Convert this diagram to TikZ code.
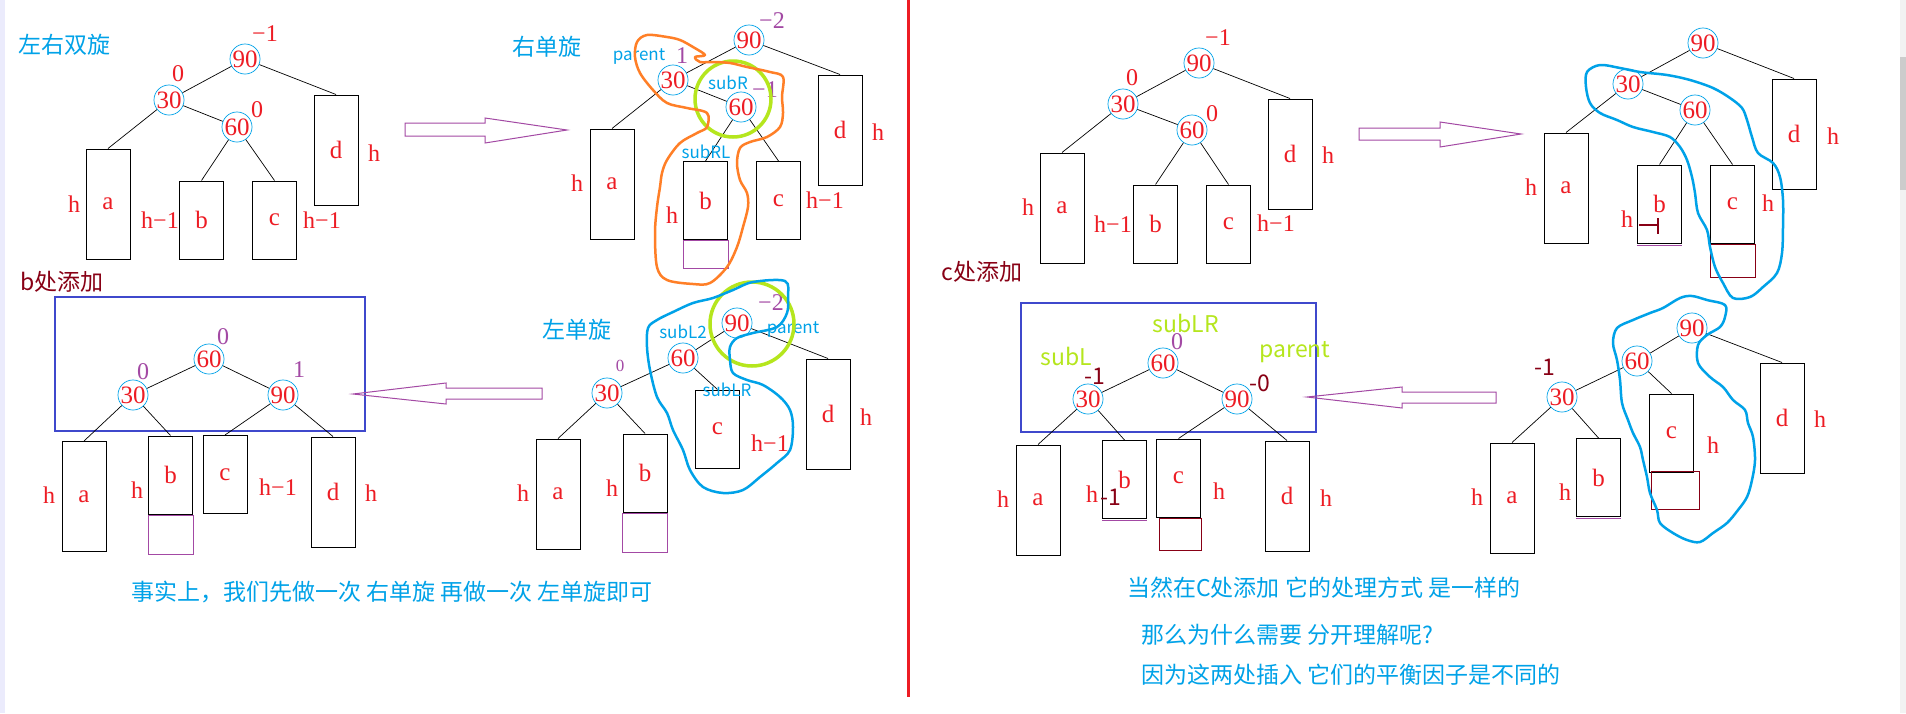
\documentclass[tikz,border=0pt]{standalone}
\usepackage{fontspec}
\setmainfont{Liberation Serif}
\newfontfamily\cjk{Noto Sans CJK SC}
\usetikzlibrary{positioning}
\definecolor{paintblue}{RGB}{0,162,232}
\definecolor{paintred}{RGB}{237,28,36}
\definecolor{paintpurple}{RGB}{163,73,164}
\definecolor{paintmaroon}{RGB}{136,0,21}
\definecolor{paintlime}{RGB}{181,230,29}
\definecolor{paintorange}{RGB}{255,127,39}
\definecolor{paintindigo}{RGB}{63,72,204}
\begin{document}
\begin{tikzpicture}[x=1pt, y=-1pt,
    key/.style={circle, draw=paintblue, line width=0.7pt, minimum size=27pt, inner sep=0pt, text=paintred, font=\fontsize{25}{25}\selectfont},
    tallbox/.style={draw, line width=1pt, minimum width=44pt, minimum height=110pt, inner sep=0pt, text=paintred, font=\fontsize{25}{25}\selectfont},
    shortbox/.style={tallbox, minimum height=78pt},
    addbox/.style={draw=paintpurple, line width=1pt, minimum width=45pt, inner sep=0pt},
    branch/.style={line width=0.7pt},
    ht/.style={text=paintred, inner sep=0pt, font=\fontsize{24}{24}\selectfont},
    pbf/.style={ht, text=paintpurple},
    mbf/.style={text=paintmaroon, inner sep=0pt, font=\cjk\fontsize{23}{23}\selectfont},
    tag/.style={text=paintblue, inner sep=0pt, font=\cjk\fontsize{17}{17}\selectfont},
    gtag/.style={text=paintlime, inner sep=0pt, font=\cjk\fontsize{23}{23}\selectfont},
    title/.style={text=paintblue, inner sep=0pt, font=\cjk\fontsize{23}{23}\selectfont},
    mtitle/.style={title, text=paintmaroon},
    hollowarrow/.style={draw=paintpurple, line width=1pt},
    blob/.style={line width=2.5pt, line join=round},
    limering/.style={draw=paintlime, line width=3.5pt}]
    \useasboundingbox (0,0) rectangle (1906,713);
    \fill[white] (0,0) rectangle (1906,713);
    % Ränder
    \fill[black!12!blue!8] (0,0) rectangle (5,713);
    \fill[black!5] (1900,0) rectangle (1906,713);
    \fill[black!20] (1900,57) rectangle (1906,190);
    \draw[paintred, line width=3pt] (908,0) -- (908,697);

    % ---- Bild 1: Ausgangsbaum (links oben)
    \node[title] (t1) at (64,45) {左右双旋};
    \node[key] (A90) at (245,59) {90};
    \node[key] (A30) at (169,100) {30};
    \node[key] (A60) at (237,127) {60};
    \node[tallbox] (Aa) at (108,204) {a};
    \node[shortbox] (Ab) at (201.5,220) {b};
    \node[shortbox] (Ac) at (274.5,220) {c};
    \node[tallbox] (Ad) at (336,150) {d};
    \draw[branch] (A90) -- (A30) (A90) -- (Ad.north) (A30) -- (Aa.north) (A30) -- (A60)
        (A60) -- (Ab.north) (A60) -- (Ac.north);
    \node[ht] (A90f) at (265,34) {−1};
    \node[ht] (A30f) at (178,74) {0};
    \node[ht] (A60f) at (257,110) {0};
    \node[ht] (Aah) at (74,204) {h};
    \node[ht] (Abh) at (160,220) {h−1};
    \node[ht] (Ach) at (322,220) {h−1};
    \node[ht] (Adh) at (374,153) {h};

    % ---- Bild 2: Rechtsrotation um 30
    \node[title] (t2) at (547,47) {右单旋};
    \node[key] (B90) at (749,40) {90};
    \node[key] (B30) at (673,80) {30};
    \node[key] (B60) at (741,107) {60};
    \node[tallbox] (Ba) at (612,184) {a};
    \node[shortbox] (Bb) at (705.5,200.5) {b};
    \node[shortbox] (Bc) at (778.5,200.5) {c};
    \node[tallbox] (Bd) at (840,130) {d};
    \node[addbox, minimum height=28pt, below=0pt of Bb] (Bbx) {};
    \draw[branch] (B90) -- (B30) (B90) -- (Bd.north) (B30) -- (Ba.north) (B30) -- (B60)
        (B60) -- (Bb.north) (B60) -- (Bc.north);
    \node[pbf] (B90f) at (772,21) {−2};
    \node[pbf] (B30f) at (682,56) {1};
    \node[pbf] (B60f) at (765,90) {−1};
    \node[tag] (Bpar) at (639,57) {parent};
    \node[tag] (Bsub) at (728,83) {subR};
    \node[tag] (Bsubl) at (706,152) {subRL};
    \node[ht] (Bah) at (577,183) {h};
    \node[ht] (Bbh) at (672,215) {h};
    \node[ht] (Bch) at (825,200) {h−1};
    \node[ht] (Bdh) at (878,132) {h};
    \draw[limering] (733,99) circle[radius=38];
    \draw[blob, paintorange] plot[smooth cycle, tension=0.55] coordinates {
        (705,55) (693,47) (680,40) (667,37) (647,35) (637,42) (635,57) (640,73)
        (653,90) (667,103) (687,108) (707,113) (707,127) (697,133) (680,143)
        (667,160) (662,173) (660,187) (657,207) (655,233) (657,267) (667,280)
        (693,284) (710,283) (727,267) (737,247) (743,227) (748,207) (747,193)
        (740,180) (737,163) (740,148) (750,142) (767,137) (780,127) (783,113)
        (782,97) (783,77) (770,72) (747,67) (730,63) (713,62) (700,62) (695,57)};

    % ---- Bild 3: Linksrotation um 90
    \node[title] (t3) at (577,330) {左单旋};
    \node[key] (C90) at (737,323) {90};
    \node[key] (C60) at (683,358) {60};
    \node[key] (C30) at (607,393) {30};
    \node[tallbox] (Ca) at (558,494) {a};
    \node[shortbox] (Cb) at (645,473) {b};
    \node[shortbox] (Cc) at (717.5,429) {c};
    \node[tallbox] (Cd) at (828,414) {d};
    \node[addbox, minimum height=39pt, below=0pt of Cb] (Cbx) {};
    \draw[branch] (C90) -- (C60) (C90) -- (Cd.north) (C60) -- (C30) (C60) -- (Cc.north)
        (C30) -- (Ca.north) (C30) -- (Cb.north);
    \node[pbf] (C90f) at (771,303) {−2};
    \node[pbf, font=\fontsize{17}{17}\selectfont] (C30f) at (620,366) {0};
    \node[tag] (Cpar) at (793,330) {parent};
    \node[tag] (Csub) at (683,332) {subL2};
    \node[tag] (Csubl) at (727,390) {subLR};
    \node[ht] (Cah) at (523,493) {h};
    \node[ht] (Cbh) at (612,488) {h};
    \node[ht] (Cch) at (770,443) {h−1};
    \node[ht] (Cdh) at (866,417) {h};
    \draw[limering] (752,324) circle[radius=42];
    \draw[blob, paintblue] plot[smooth cycle, tension=0.55] coordinates {
        (785,281) (753,282) (733,290) (713,298) (693,303) (673,312) (657,320)
        (648,328) (647,347) (650,370) (657,397) (667,413) (673,430) (683,450)
        (690,470) (703,487) (723,493) (743,490) (760,477) (777,463) (790,450)
        (793,427) (790,410) (780,397) (763,385) (747,380) (733,373) (730,360)
        (730,347) (737,338) (753,333) (777,327) (787,313) (788,297)};

    % ---- Bild 4: Ergebnis bei b
    \node[mtitle] (t4) at (62,282) {b处添加};
    \draw[paintindigo, line width=1.2pt] (55,297) rectangle (365,431);
    \node[key] (D60) at (209,359) {60};
    \node[key] (D30) at (133,395) {30};
    \node[key] (D90) at (283,395) {90};
    \node[tallbox] (Da) at (84,496.5) {a};
    \node[shortbox] (Db) at (170.5,475) {b};
    \node[shortbox] (Dc) at (225,474.5) {c};
    \node[tallbox] (Dd) at (333,492) {d};
    \node[addbox, minimum height=39pt, below=0pt of Db] (Dbx) {};
    \draw[branch] (D60) -- (D30) (D60) -- (D90) (D30) -- (Da.north) (D30) -- (Db.north)
        (D90) -- (Dc.north) (D90) -- (Dd.north);
    \node[pbf] (D60f) at (223,337) {0};
    \node[pbf] (D30f) at (143,372) {0};
    \node[pbf] (D90f) at (299,370) {1};
    \node[ht] (Dah) at (49,495) {h};
    \node[ht] (Dbh) at (137,490) {h};
    \node[ht] (Dch) at (278,487) {h−1};
    \node[ht] (Ddh) at (371,493) {h};

    % Pfeile links
    \draw[hollowarrow] (405,123) -- (485,123) -- (485,118) -- (567,130) -- (485,143)
        -- (485,136) -- (405,136) -- cycle;
    \draw[hollowarrow] (542,388) -- (446,388) -- (446,383) -- (353,394) -- (446,404)
        -- (446,399) -- (542,399) -- cycle;
    \node[title] (note1) at (392,592) {事实上，我们先做一次 右单旋 再做一次 左单旋即可};

    % ---- Bild 5: Ausgangsbaum (rechts oben)
    \node[key] (E90) at (1199,63) {90};
    \node[key] (E30) at (1123,104) {30};
    \node[key] (E60) at (1192,130) {60};
    \node[tallbox] (Ea) at (1062,208) {a};
    \node[shortbox] (Eb) at (1155.5,224) {b};
    \node[shortbox] (Ec) at (1228.5,224) {c};
    \node[tallbox] (Ed) at (1290,154) {d};
    \draw[branch] (E90) -- (E30) (E90) -- (Ed.north) (E30) -- (Ea.north) (E30) -- (E60)
        (E60) -- (Eb.north) (E60) -- (Ec.north);
    \node[ht] (E90f) at (1218,38) {−1};
    \node[ht] (E30f) at (1132,78) {0};
    \node[ht] (E60f) at (1212,114) {0};
    \node[ht] (Eah) at (1028,207) {h};
    \node[ht] (Ebh) at (1113,224) {h−1};
    \node[ht] (Ech) at (1276,223) {h−1};
    \node[ht] (Edh) at (1328,155) {h};
    \node[mtitle] (t5) at (982,272) {c处添加};

    % ---- Bild 6: Einfügen bei c
    \node[key] (F90) at (1703,43) {90};
    \node[key] (F30) at (1628,84) {30};
    \node[key] (F60) at (1695,110) {60};
    \node[tallbox] (Fa) at (1566,188) {a};
    \node[shortbox] (Fb) at (1659.5,204) {b};
    \node[shortbox] (Fc) at (1732.5,204) {c};
    \node[tallbox] (Fd) at (1794,134) {d};
    \node[addbox, draw=paintmaroon, minimum height=33pt, below=0pt of Fc] (Fcx) {};
    \draw[branch] (F90) -- (F30) (F90) -- (Fd.north) (F30) -- (Fa.north) (F30) -- (F60)
        (F60) -- (Fb.north) (F60) -- (Fc.north);
    \draw[paintpurple, line width=1pt] (Fb.south west) ++(0,2) -- ++(45,0);
    \draw[paintmaroon, line width=2pt] (1639,225) -- (1657,225) (1658,218) -- (1658,234);
    \node[ht] (Fah) at (1531,187) {h};
    \node[ht] (Fbh) at (1627,219) {h};
    \node[ht] (Fch) at (1768,203) {h};
    \node[ht] (Fdh) at (1833,136) {h};
    \draw[blob, paintblue] plot[smooth cycle, tension=0.55] coordinates {
        (1600,65) (1620,68) (1640,72) (1667,75) (1690,80) (1713,88) (1730,98)
        (1742,108) (1747,120) (1752,137) (1758,153) (1773,163) (1780,177)
        (1783,200) (1783,227) (1782,253) (1777,273) (1763,287) (1750,297)
        (1733,298) (1723,283) (1715,267) (1710,247) (1707,230) (1698,213)
        (1695,193) (1692,177) (1687,160) (1680,147) (1670,137) (1653,132)
        (1633,127) (1617,120) (1600,113) (1590,103) (1586,87) (1587,72)};

    % ---- Bild 7: Ergebnis bei c
    \draw[paintindigo, line width=1.2pt] (1021,303) rectangle (1316,432);
    \node[key] (G60) at (1163,363) {60};
    \node[key] (G30) at (1088,399) {30};
    \node[key] (G90) at (1237,399) {90};
    \node[tallbox] (Ga) at (1038,500) {a};
    \node[shortbox] (Gb) at (1124.5,479.5) {b};
    \node[shortbox] (Gc) at (1178.5,478) {c};
    \node[tallbox] (Gd) at (1287,496) {d};
    \node[addbox, draw=paintmaroon, minimum width=42pt, minimum height=32pt,
        below right=0pt and -42.5pt of Gc.south east] (Gcx) {};
    \draw[branch] (G60) -- (G30) (G60) -- (G90) (G30) -- (Ga.north) (G30) -- (Gb.north)
        (G90) -- (Gc.north) (G90) -- (Gd.north);
    \draw[paintpurple, line width=1pt] (Gb.south west) ++(0,1) -- ++(45,0);
    \node[gtag] (Gsublr) at (1186,323) {subLR};
    \node[gtag] (Gsubl) at (1066,356) {subL};
    \node[gtag] (Gpar) at (1295,352) {parent};
    \node[pbf] (G60f) at (1177,342) {0};
    \node[mbf] (G30f) at (1095,376) {-1};
    \node[mbf] (G90f) at (1260,383) {-0};
    \node[ht] (Gah) at (1003,499) {h};
    \node[ht] (Gbh) at (1092,494) {h};
    \node[mbf] (Gbm) at (1111,497) {-1};
    \node[ht] (Gch) at (1219,491) {h};
    \node[ht] (Gdh) at (1326,498) {h};

    % ---- Bild 8: Zwischenschritt bei c
    \node[key] (H90) at (1692,328) {90};
    \node[key] (H60) at (1637,361) {60};
    \node[key] (H30) at (1562,397) {30};
    \node[tallbox] (Ha) at (1512,498) {a};
    \node[shortbox] (Hb) at (1598.5,477.5) {b};
    \node[shortbox] (Hc) at (1671.5,433) {c};
    \node[tallbox] (Hd) at (1782,418) {d};
    \draw[paintmaroon, line width=1pt] (1651,471) rectangle (1699,509);
    \draw[branch] (H90) -- (H60) (H90) -- (Hd.north) (H60) -- (H30) (H60) -- (Hc.north)
        (H30) -- (Ha.north) (H30) -- (Hb.north);
    \draw[paintpurple, line width=1pt] (Hb.south west) ++(0,1) -- ++(45,0);
    \node[mbf] (H30f) at (1545,367) {-1};
    \node[ht] (Hah) at (1477,497) {h};
    \node[ht] (Hbh) at (1565,492) {h};
    \node[ht] (Hch) at (1713,445) {h};
    \node[ht] (Hdh) at (1820,419) {h};
    \draw[blob, paintblue] plot[smooth cycle, tension=0.55] coordinates {
        (1692,296) (1707,300) (1725,305) (1725,317) (1720,327) (1707,335)
        (1698,345) (1698,363) (1710,377) (1723,387) (1733,400) (1745,410)
        (1748,423) (1753,437) (1755,460) (1752,480) (1747,497) (1738,510)
        (1727,523) (1713,533) (1700,542) (1687,540) (1673,533) (1660,523)
        (1657,510) (1650,493) (1647,477) (1643,460) (1640,447) (1633,433)
        (1628,420) (1622,403) (1620,380) (1617,360) (1613,343) (1617,328)
        (1633,320) (1650,313) (1663,308) (1680,298)};

    % Pfeile rechts
    \draw[hollowarrow] (1359,128) -- (1440,128) -- (1440,122) -- (1521,134) -- (1440,147)
        -- (1440,140) -- (1359,140) -- cycle;
    \draw[hollowarrow] (1496,392) -- (1402,392) -- (1402,387) -- (1307,397) -- (1402,408)
        -- (1402,403) -- (1496,403) -- cycle;
    \node[title, anchor=west] (note2) at (1127,588) {当然在C处添加 它的处理方式 是一样的};
    \node[title, anchor=west] (note3) at (1141,635) {那么为什么需要 分开理解呢?};
    \node[title, anchor=west] (note4) at (1141,675) {因为这两处插入 它们的平衡因子是不同的};
\end{tikzpicture}
\end{document}
